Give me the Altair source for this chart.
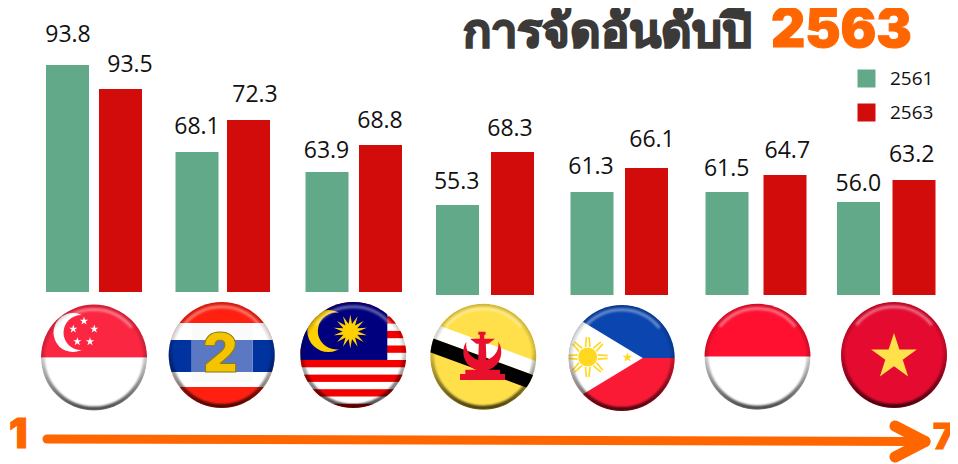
import base64
import math
import altair as alt
import pandas as pd

# ---------- values ----------
countries = ["สิงคโปร์", "ไทย", "มาเลเซีย", "บรูไน", "ฟิลิปปินส์", "อินโดนีเซีย", "เวียดนาม"]
years = ["2561", "2563"]
printed_2561 = ["93.8", "68.1", "63.9", "55.3", "61.3", "61.5", "56.0"]
printed_2563 = ["93.5", "72.3", "68.8", "68.3", "66.1", "64.7", "63.2"]
# the drawn bars are not proportional to the printed numbers: drawn lengths are read separately
drawn_2561 = [227, 140, 120, 90, 103, 103, 93]
drawn_2563 = [203, 172, 147, 143, 127, 120, 115]
floor_level = [3, 3, 3, 0, 0, 0, 0]

# ---------- layout nudges around the band centres (not data) ----------
bar_dx_2561 = [-27.5, -30, -32, -33.5, -31, -28, -28.5]
bar_dx_2563 = [25.5, 21.5, 21.5, 21.5, 23.5, 30, 27]
label_dx_2561 = [-27, -30, -32.5, -34.3, -32, -28.3, -28.7]
label_dx_2563 = [35, 28, 21, 19, 29, 32.3, 24.7]
label_gap_2561 = [23, 18, 14, 16, 18, 16, 11]
label_gap_2563 = [17, 18, 17, 16, 21, 17, 18]
flag_dx = [-1, -5.3, -5.7, -7.7, -1.3, 2.5, 7]
flag_level = [-62.6, -60, -60, -61.7, -63, -61.7, -60]

GREEN, RED, ORANGE, DARK, INK = "#62a98a", "#d20b0b", "#ff6600", "#3c3a39", "#111111"
NUM_FONT = "Open Sans"
HEAVY = "Inter"


# ---------- flag badges ----------
def star(cx, cy, r, n=5, inner=0.382, rot=-90.0):
    pts = []
    for i in range(n * 2):
        rad = r if i % 2 == 0 else r * inner
        a = math.radians(rot + i * 180.0 / n)
        pts.append(f"{cx + rad * math.cos(a):.2f},{cy + rad * math.sin(a):.2f}")
    return " ".join(pts)


def badge(inner):
    svg = f"""<svg xmlns="http://www.w3.org/2000/svg" width="108" height="108" viewBox="-54 -54 108 108">
<defs>
<clipPath id="c"><circle r="53"/></clipPath>
<linearGradient id="s" x1="0" y1="0" x2="0" y2="1">
<stop offset="0.45" stop-color="#000" stop-opacity="0"/>
<stop offset="1" stop-color="#000" stop-opacity="0.7"/></linearGradient>
<radialGradient id="r"><stop offset="0.9" stop-color="#000" stop-opacity="0"/>
<stop offset="1" stop-color="#000" stop-opacity="0.22"/></radialGradient>
<filter id="b" x="-20%" y="-20%" width="140%" height="140%"><feGaussianBlur stdDeviation="0.9"/></filter>
</defs>
<g clip-path="url(#c)">{inner}
<circle r="53" fill="url(#r)"/>
<circle r="51" fill="none" stroke="url(#s)" stroke-width="4" filter="url(#b)"/>
<path d="M-37,-31 A48.5,48.5 0 0 1 37,-31" fill="none" stroke="#fff" stroke-opacity="0.4" stroke-width="3" stroke-linecap="round" filter="url(#b)"/>
</g></svg>"""
    return "data:image/svg+xml;base64," + base64.b64encode(svg.encode()).decode()


def rect(x, y, w, h, fill, extra=""):
    return f'<rect x="{x}" y="{y}" width="{w}" height="{h}" fill="{fill}" {extra}/>'


sg = (
    rect(-54, -54, 108, 54, "#fb2641") + rect(-54, 0, 108, 54, "#fff")
    + '<circle cx="-21" cy="-25" r="19.5" fill="#fff"/><circle cx="-13" cy="-25" r="17.5" fill="#fb2641"/>'
    + "".join(f'<polygon points="{star(x, y, 4.4)}" fill="#fff"/>' for x, y in
              [(-10, -36.6), (-20.7, -28.6), (0.3, -28.6), (-16.7, -16), (-4, -16)])
)
th = (
    rect(-54, -54, 108, 108, "#ff2010") + rect(-54, -32, 108, 64, "#fff") + rect(-54, -15, 108, 32, "#0032a0")
    + rect(-30, -31, 61, 58, "#fafafa") + rect(-30, -15, 61, 32, "#5b78c3")
)
my_stripes = "".join(rect(-54, y, 108, 7.3, "#f40000") for y in
                     [-53.3, -38.7, -24.1, -9.5, 5, 19.6, 34.2, 48.8])
my = (
    rect(-54, -54, 108, 108, "#fff") + my_stripes + rect(-54, -54, 88, 59, "#00007f")
    + '<circle cx="-25" cy="-24" r="21" fill="#ffd000"/><circle cx="-17" cy="-24" r="18.5" fill="#00007f"/>'
    + f'<polygon points="{star(-3, -23.5, 17, n=14, inner=0.45)}" fill="#ffd000"/>'
)
bn = (
    rect(-54, -54, 108, 108, "#ffe04a")
    + '<polygon points="-60,-37 60,7 60,22 -60,-22" fill="#fff"/>'
    + '<polygon points="-60,-22 60,22 60,37 -60,-7" fill="#000"/>'
    + '<g fill="#e8102c"><path d="M-17,-15 A19,19 0 1 0 15,-15 A16.2,16.2 0 1 1 -17,-15Z"/>'
    + '<polygon points="-5,-25 2.3,-25 2.3,-22 1,-22 1,-18 11.7,-18 5,-13 2.5,-13 3.5,13 16.7,13 16.7,17.3 21.7,17.3 21.7,23.3 '
      '-23.3,23.3 -23.3,17.3 -18,17.3 -18,13 -5.5,13 -4.5,-13 -7,-13 -13.3,-18 -3.5,-18 -3.5,-22 -5,-22"/></g>'
)
ph_rays = ""
for i in range(8):
    a = math.radians(i * 45)
    c, s = math.cos(a), math.sin(a)
    for off in (-2.2, 2.2):
        ph_rays += (f'<line x1="{-34 + 10 * c - off * s:.2f}" y1="{-1 + 10 * s + off * c:.2f}" '
                    f'x2="{-34 + 20 * c - off * s * 0.6:.2f}" y2="{-1 + 20 * s + off * c * 0.6:.2f}" '
                    'stroke="#ffd81f" stroke-width="1.7"/>')
ph = (
    rect(-54, -54, 108, 54, "#0a45b0") + rect(-54, 0, 108, 54, "#fb1a36")
    + '<polygon points="21,0 -60,-49 -60,49" fill="#fff"/>'
    + ph_rays + '<circle cx="-34" cy="-1" r="9.5" fill="#ffd81f"/>'
    + f'<polygon points="{star(5.7, -0.6, 5.2)}" fill="#ffd81f"/>'
)
id_ = rect(-54, -54, 108, 54, "#ff1030") + rect(-54, 0, 108, 54, "#fff")
vn = rect(-54, -54, 108, 108, "#e50a30") + f'<polygon points="{star(0, 2, 24)}" fill="#ffe24a"/>'
flag_urls = [badge(f) for f in (sg, th, my, bn, ph, id_, vn)]

# ---------- tables ----------
rows = []
for i, c in enumerate(countries):
    rows.append(dict(country=c, year=years[0], printed=printed_2561[i], top=floor_level[i] + drawn_2561[i],
                     floor=floor_level[i], bdx=bar_dx_2561[i], ldx=label_dx_2561[i], gap=-label_gap_2561[i]))
    rows.append(dict(country=c, year=years[1], printed=printed_2563[i], top=floor_level[i] + drawn_2563[i],
                     floor=floor_level[i], bdx=bar_dx_2563[i], ldx=label_dx_2563[i], gap=-label_gap_2563[i]))
bars = pd.DataFrame(rows)
flags = pd.DataFrame(dict(country=countries, url=flag_urls, dx=flag_dx, level=flag_level))

x = alt.X("country:N", sort=countries, axis=None,
          scale=alt.Scale(domain=countries, range=[21, 945], paddingInner=0, paddingOuter=0))
y_scale = alt.Scale(domain=[-169, 287], range=[456, 0], nice=False, zero=False)
y = alt.Y("top:Q", axis=None, scale=y_scale)

bar_layer = alt.Chart(bars).mark_bar(width=43, xOffset=alt.expr("datum.bdx")).encode(
    x=x, y=y, y2="floor:Q",
    color=alt.Color("year:N", scale=alt.Scale(domain=years, range=[GREEN, RED]),
                    legend=alt.Legend(orient="none", legendX=849, legendY=61, title=None,
                                      symbolType="square", symbolSize=324, symbolStrokeWidth=0,
                                      labelFont=NUM_FONT, labelFontSize=19, labelColor=INK,
                                      labelOffset=14, rowPadding=14, padding=0)),
)
label_layer = alt.Chart(bars).mark_text(
    font=NUM_FONT, fontSize=23, color=INK, align="center", baseline="alphabetic",
    xOffset=alt.expr("datum.ldx"), yOffset=alt.expr("datum.gap"),
).encode(x=x, y=y, text="printed:N")

flag_layer = alt.Chart(flags).mark_image(
    width=108, height=108, align="center", baseline="middle", xOffset=alt.expr("datum.dx"),
).encode(x=x, y=alt.Y("level:Q", axis=None, scale=y_scale), url="url:N")


def words(text, px, py, **style):
    return alt.Chart(pd.DataFrame({"t": [text]})).mark_text(baseline="alphabetic", **style).encode(
        x=alt.value(px), y=alt.value(py), text="t:N")


def stroke(x1, y1, x2, y2, width):
    return alt.Chart(pd.DataFrame({"k": [0]})).mark_rule(color=ORANGE, strokeWidth=width, strokeCap="round").encode(
        x=alt.value(x1), x2=alt.value(x2), y=alt.value(y1), y2=alt.value(y2))


chart = alt.layer(
    bar_layer, label_layer, flag_layer,
    words("2", 212.5, 364, font=HEAVY, fontWeight=900, fontSize=54, align="center",
          color="#f5c400", stroke="#8a7a1a", strokeWidth=1),
    stroke(39, 431, 912, 433.5, 9),
    stroke(887, 418, 917, 433.5, 11),
    stroke(887, 449, 917, 433.5, 11),
    words("1", 1, 440, font=HEAVY, fontWeight=900, fontSize=41, align="left",
          color=ORANGE, stroke=ORANGE, strokeWidth=1),
    words("7", 925, 441, font=HEAVY, fontWeight=900, fontSize=35, align="left",
          color=ORANGE, stroke=ORANGE, strokeWidth=1),
    words("การจัดอันดับปี", 744, 39, font="Noto Sans", fontWeight=900, fontSize=47, align="right",
          color=DARK, stroke=DARK, strokeWidth=2),
    words("2563", 763, 39, font=HEAVY, fontWeight=900, fontSize=53, align="left",
          color=ORANGE, stroke=ORANGE, strokeWidth=1),
).properties(
    width=942, height=456, padding=0, autosize=alt.AutoSizeParams(type="none"),
).configure_view(stroke=None)

chart.save("out.html", embed_options={"renderer": "svg", "actions": False})
